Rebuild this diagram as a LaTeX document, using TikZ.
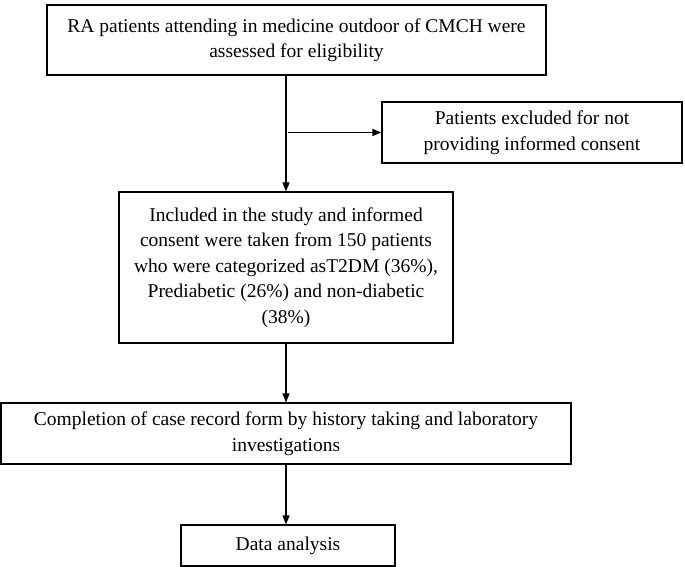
\documentclass[tikz,border=0pt]{standalone}
\usepackage{fontspec}
\setmainfont{Liberation Serif}
\usetikzlibrary{arrows.meta, positioning, calc}
\tikzset{
  box/.style={draw, line width=1.1pt, align=center, inner sep=4pt,
    font=\fontsize{19.5}{25.5}\selectfont},
  arr/.style={-{Triangle[length=9pt, width=7pt]}, line width=1.2pt},
}

\begin{document}
\begin{tikzpicture}[x=1pt, y=-1pt]
  \useasboundingbox (0,0) rectangle (685,567);
  \node[box, minimum width=499pt, minimum height=70pt] (assess) at (296.5,40)
    {RA patients attending in medicine outdoor of CMCH were\\assessed for eligibility};
  \node[box, minimum width=300pt, minimum height=61pt] (excl) at (532,132.5)
    {Patients excluded for not\\providing informed consent};
  \node[box, minimum width=334pt, minimum height=151pt] (incl) at (286,267.5)
    {Included in the study and informed\\consent were taken from 150 patients\\who were categorized asT2DM (36\%),\\Prediabetic (26\%) and non-diabetic\\(38\%)};
  \node[box, minimum width=570pt, minimum height=61pt] (crf) at (286,433.5)
    {Completion of case record form by history taking and laboratory\\investigations};
  \node[box, minimum width=214pt, minimum height=41pt] (data) at (288,545.5)
    {Data analysis};
  % connectors
  \coordinate (split) at (incl.north |- excl.west);
  \draw[arr] (incl.north |- assess.south) -- (incl.north);
  \draw[arr] ([xshift=2pt]split) -- (excl.west);
  \draw[arr] (incl.south) -- (crf.north);
  \draw[arr] (crf.south) -- (crf.south |- data.north);
\end{tikzpicture}
\end{document}
